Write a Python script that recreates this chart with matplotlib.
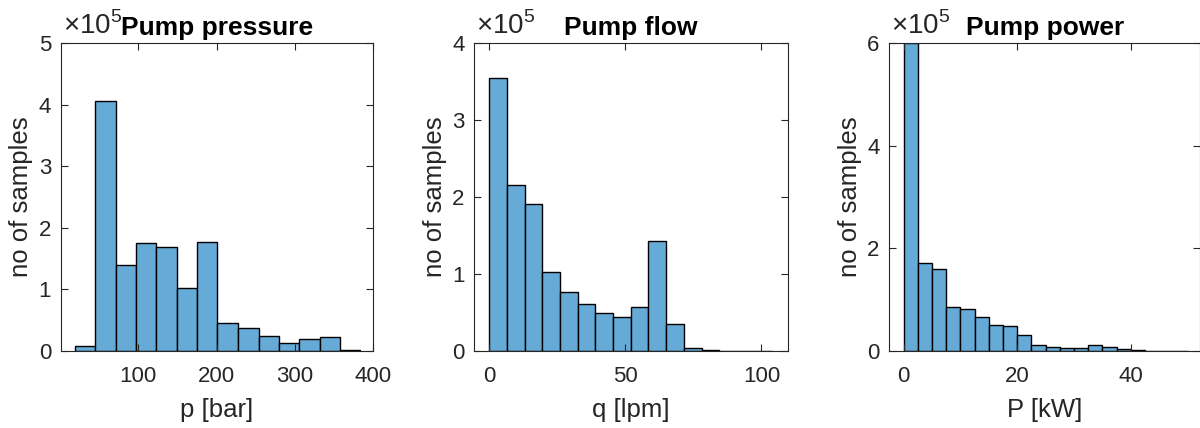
import numpy as np
import matplotlib
matplotlib.use('Agg')
from matplotlib import pyplot as plt
from matplotlib.ticker import FuncFormatter

# bin edges and counts
pressure_edges = [19, 45, 71, 97, 123, 149, 175, 201, 228, 254, 280, 306, 332, 358, 384]
pressure_counts = [8700, 405000, 139000, 176000, 169000, 102000, 177000,
                   45000, 37000, 24000, 13500, 20000, 22000, 2000]

flow_edges = [0, 6.5, 13, 19.5, 26, 32.5, 39, 45.5, 52, 58.5, 65, 71.5,
              78, 84.5, 91, 97.5, 104]
flow_counts = [355000, 216000, 191000, 102000, 77000, 61000, 49000, 44000,
               57000, 143000, 35000, 4000, 800, 300, 200, 100]

power_edges = [0, 2.5, 5, 7.5, 10, 12.5, 15, 17.5, 20, 22.5, 25, 27.5, 30,
               32.5, 35, 37.5, 40, 42.5, 45, 47.5, 50]
power_counts = [599000, 171000, 159000, 85000, 81000, 67000, 51000, 49000,
                31000, 11000, 7000, 5000, 6500, 12000, 8000, 4500, 2000,
                800, 400, 200]

titles = ['Pump pressure', 'Pump flow', 'Pump power']
xlabels = ['p [bar]', 'q [lpm]', 'P [kW]']

plt.rcParams['font.family'] = ['Liberation Sans', 'DejaVu Sans']
plt.rcParams['mathtext.fontset'] = 'custom'
plt.rcParams['mathtext.rm'] = 'Liberation Sans'

axcol = '#262626'
barcol = '#66aad7'

fig = plt.figure(figsize=(12, 4.28), dpi=100)

panels = [
    (pressure_edges, pressure_counts, [0.0508, 0.18, 0.260, 0.7196], (1, 400), [100, 200, 300, 400], 5),
    (flow_edges, flow_counts, [0.3953, 0.18, 0.2612, 0.7196], (-5.5, 109.7), [0, 50, 100], 4),
    (power_edges, power_counts, [0.7411, 0.18, 0.2589, 0.7196], (-2.5, 52.2), [0, 20, 40], 6),
]

for i, (edges, counts, pos, xlim, xticks, ytop) in enumerate(panels):
    ax = fig.add_axes(pos)
    ax.bar(edges[:-1], counts, width=np.diff(edges), align='edge',
           color=barcol, edgecolor='black', linewidth=1.0)
    ax.set_xlim(*xlim)
    ax.set_ylim(0, ytop * 1e5)
    ax.set_xticks(xticks)
    if ytop == 6:
        ax.set_yticks([0, 2e5, 4e5, 6e5])
    else:
        ax.set_yticks(np.arange(0, ytop + 1) * 1e5)
    ax.yaxis.set_major_formatter(FuncFormatter(lambda v, p: '%g' % (v / 1e5)))
    ax.tick_params(direction='in', top=True, right=True, length=5, width=0.8,
                   labelsize=16, colors=axcol, pad=7)
    ax.tick_params(axis='x', pad=11)
    for s in ax.spines.values():
        s.set_color(axcol)
        s.set_linewidth(0.8)
    ax.set_xlabel(xlabels[i], fontsize=18.5, color=axcol, labelpad=8)
    ax.set_ylabel('no of samples', fontsize=18.5, color=axcol, labelpad=4)
    ax.set_title(titles[i], fontsize=19, fontweight='bold', pad=6)
    ax.text(0.005, 1.01, r'$\times10^{5}$', transform=ax.transAxes,
            fontsize=20, color=axcol, ha='left', va='bottom')

plt.savefig('out.png', dpi=100)
